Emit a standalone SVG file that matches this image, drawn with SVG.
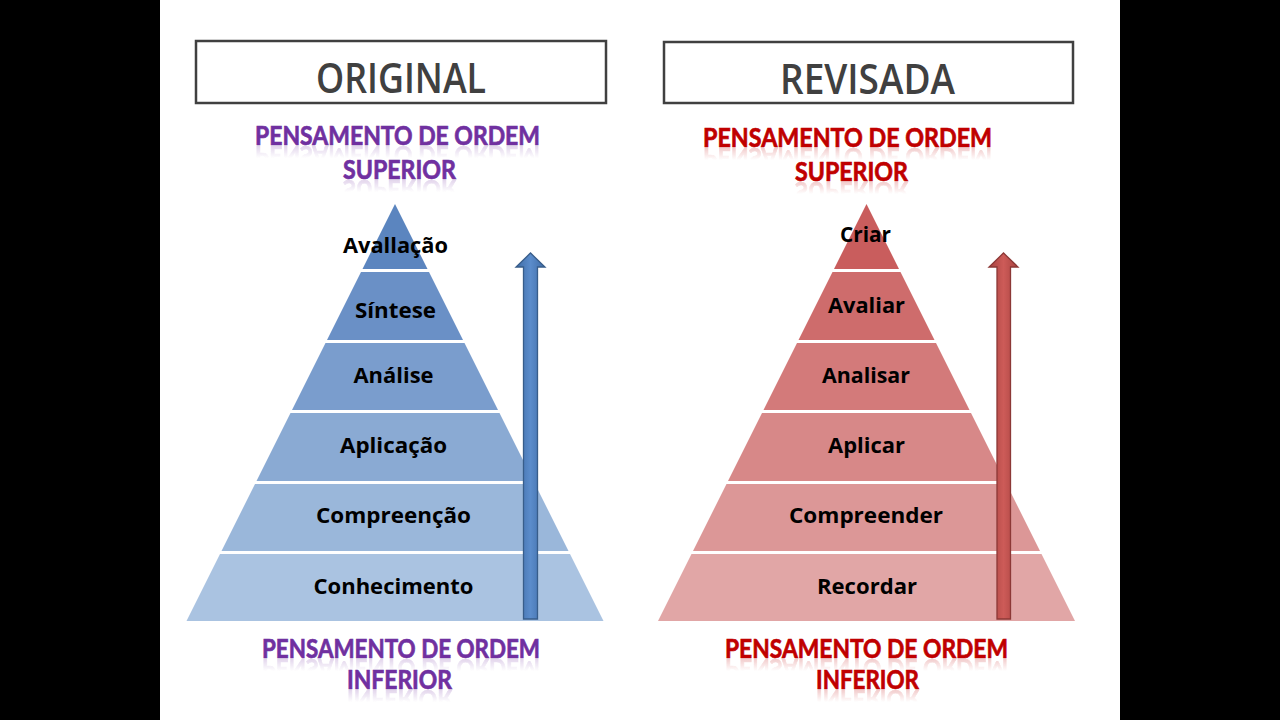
<svg xmlns="http://www.w3.org/2000/svg" xmlns:xlink="http://www.w3.org/1999/xlink" width="1280" height="720" viewBox="0 0 1280 720">
<style>
.title{font-family:"Open Sans",Lato,"Liberation Sans",sans-serif;font-size:42px;font-weight:600;fill:#404040;text-anchor:middle}
.sub{font-family:Lato,"Open Sans","Liberation Sans",sans-serif;font-size:27px;font-weight:bold;text-anchor:middle;stroke-width:0.7}
.purple{fill:#7030a0;stroke:#7030a0}
.red{fill:#c00000;stroke:#c00000}
.lbl{font-family:"Open Sans",Lato,"Liberation Sans",sans-serif;font-size:22px;font-weight:700;fill:#000;text-anchor:middle}
.box{fill:#fff;stroke:#404040;stroke-width:2.5}
</style>
<defs>
<linearGradient id="fadeG" x1="0" y1="0" x2="0" y2="1">
<stop offset="0" stop-color="#fff" stop-opacity="0"/>
<stop offset="0.45" stop-color="#fff" stop-opacity="0"/>
<stop offset="1" stop-color="#fff" stop-opacity="0.5"/>
</linearGradient>
<mask id="fade" maskContentUnits="objectBoundingBox">
<rect x="0" y="0" width="1" height="1" fill="url(#fadeG)"/>
</mask>
<linearGradient id="blueShaft" x1="0" y1="0" x2="1" y2="0">
<stop offset="0" stop-color="#3f6ca6"/>
<stop offset="0.5" stop-color="#5b8ccb"/>
<stop offset="1" stop-color="#3f6ca6"/>
</linearGradient>
<linearGradient id="redShaft" x1="0" y1="0" x2="1" y2="0">
<stop offset="0" stop-color="#a84340"/>
<stop offset="0.5" stop-color="#cd5b58"/>
<stop offset="1" stop-color="#a84340"/>
</linearGradient>
</defs>
<rect x="0" y="0" width="1280" height="720" fill="#fff"/>
<rect x="0" y="0" width="160" height="720" fill="#000"/>
<rect x="1120" y="0" width="160" height="720" fill="#000"/>

<g id="title-original">
<rect class="box" x="196" y="41" width="410" height="62"/>
<text class="title" x="401" y="93" textLength="170" lengthAdjust="spacingAndGlyphs">ORIGINAL</text>
</g>
<g id="title-revisada">
<rect class="box" x="664" y="42" width="409" height="61"/>
<text class="title" x="867.5" y="94" textLength="175" lengthAdjust="spacingAndGlyphs">REVISADA</text>
</g>

<g id="left-top-heading">
<text id="lt1" class="sub purple" x="397.5" y="145" textLength="285" lengthAdjust="spacingAndGlyphs">PENSAMENTO DE ORDEM</text>
<text id="lt2" class="sub purple" x="399.5" y="179" textLength="113" lengthAdjust="spacingAndGlyphs">SUPERIOR</text>
<use xlink:href="#lt1" transform="translate(0,291) scale(1,-1)" mask="url(#fade)" opacity="0.6"/>
<use xlink:href="#lt2" transform="translate(0,359) scale(1,-1)" mask="url(#fade)" opacity="0.6"/>
</g>
<g id="right-top-heading">
<text id="rt1" class="sub red" x="847.5" y="147" textLength="289" lengthAdjust="spacingAndGlyphs">PENSAMENTO DE ORDEM</text>
<text id="rt2" class="sub red" x="851.5" y="181" textLength="113" lengthAdjust="spacingAndGlyphs">SUPERIOR</text>
<use xlink:href="#rt1" transform="translate(0,295) scale(1,-1)" mask="url(#fade)" opacity="0.6"/>
<use xlink:href="#rt2" transform="translate(0,363) scale(1,-1)" mask="url(#fade)" opacity="0.6"/>
</g>
<g id="left-bottom-heading">
<text id="lb1" class="sub purple" x="401" y="658" textLength="278" lengthAdjust="spacingAndGlyphs">PENSAMENTO DE ORDEM</text>
<text id="lb2" class="sub purple" x="399.5" y="689" textLength="105" lengthAdjust="spacingAndGlyphs">INFERIOR</text>
<use xlink:href="#lb1" transform="translate(0,1317) scale(1,-1)" mask="url(#fade)" opacity="0.6"/>
<use xlink:href="#lb2" transform="translate(0,1379) scale(1,-1)" mask="url(#fade)" opacity="0.6"/>
</g>
<g id="right-bottom-heading">
<text id="rb1" class="sub red" x="866.5" y="658" textLength="283" lengthAdjust="spacingAndGlyphs">PENSAMENTO DE ORDEM</text>
<text id="rb2" class="sub red" x="867.5" y="689" textLength="103" lengthAdjust="spacingAndGlyphs">INFERIOR</text>
<use xlink:href="#rb1" transform="translate(0,1317) scale(1,-1)" mask="url(#fade)" opacity="0.6"/>
<use xlink:href="#rb2" transform="translate(0,1379) scale(1,-1)" mask="url(#fade)" opacity="0.6"/>
</g>

<!-- Left pyramid -->
<g id="l-avaliacao">
<polygon points="395,204 427.5,269 362.5,269" fill="#5b85bf"/>
<text class="lbl" x="395.5" y="253" textLength="105" lengthAdjust="spacingAndGlyphs">Avallação</text>
</g>
<g id="l-sintese">
<polygon points="361,272 429,272 463,340 327,340" fill="#6a90c6"/>
<text class="lbl" x="395.5" y="318" textLength="81" lengthAdjust="spacingAndGlyphs">Síntese</text>
</g>
<g id="l-analise">
<polygon points="325.5,343 464.5,343 498,410 292,410" fill="#7a9dcd"/>
<text class="lbl" x="393.5" y="383" textLength="80" lengthAdjust="spacingAndGlyphs">Análise</text>
</g>
<g id="l-aplicacao">
<polygon points="290.5,413 499.5,413 533.5,481 256.5,481" fill="#8aaad3"/>
<text class="lbl" x="393.5" y="453" textLength="107" lengthAdjust="spacingAndGlyphs">Aplicação</text>
</g>
<g id="l-compreencao">
<polygon points="255,484 535,484 568.5,551 221.5,551" fill="#9ab7da"/>
<text class="lbl" x="393.5" y="523" textLength="155" lengthAdjust="spacingAndGlyphs">Compreenção</text>
</g>
<g id="l-conhecimento">
<polygon points="220,554 570,554 603.5,621 186.5,621" fill="#aac3e1"/>
<text class="lbl" x="393.5" y="594" textLength="160" lengthAdjust="spacingAndGlyphs">Conhecimento</text>
</g>

<!-- Right pyramid -->
<g id="r-criar">
<polygon points="866.5,204 899,269 834,269" fill="#c95d5d"/>
<text class="lbl" x="865.5" y="242" textLength="51" lengthAdjust="spacingAndGlyphs">Criar</text>
</g>
<g id="r-avaliar">
<polygon points="832.5,272 900.5,272 934.5,340 798.5,340" fill="#ce6c6c"/>
<text class="lbl" x="866.5" y="313" textLength="77" lengthAdjust="spacingAndGlyphs">Avaliar</text>
</g>
<g id="r-analisar">
<polygon points="797,343 936,343 969.5,410 763.5,410" fill="#d37a7a"/>
<text class="lbl" x="866" y="383" textLength="88" lengthAdjust="spacingAndGlyphs">Analisar</text>
</g>
<g id="r-aplicar">
<polygon points="762,413 971,413 1005,481 728,481" fill="#d78888"/>
<text class="lbl" x="866.5" y="453" textLength="77" lengthAdjust="spacingAndGlyphs">Aplicar</text>
</g>
<g id="r-compreender">
<polygon points="726.5,484 1006.5,484 1040,551 693,551" fill="#dc9797"/>
<text class="lbl" x="866" y="523" textLength="154" lengthAdjust="spacingAndGlyphs">Compreender</text>
</g>
<g id="r-recordar">
<polygon points="691.5,554 1041.5,554 1075,621 658,621" fill="#e1a6a6"/>
<text class="lbl" x="867" y="594" textLength="100" lengthAdjust="spacingAndGlyphs">Recordar</text>
</g>

<g id="connectors">
<polygon points="523.5,619 537.5,619 537.5,267 545,267 530.5,253 516,267 523.5,267" fill="url(#blueShaft)" stroke="#385d8a" stroke-width="1.3" stroke-linejoin="miter"/>
<polygon points="997,619 1010.5,619 1010.5,267 1018,267 1003.5,253 989,267 997,267" fill="url(#redShaft)" stroke="#8c3836" stroke-width="1.3" stroke-linejoin="miter"/>
</g>
</svg>
